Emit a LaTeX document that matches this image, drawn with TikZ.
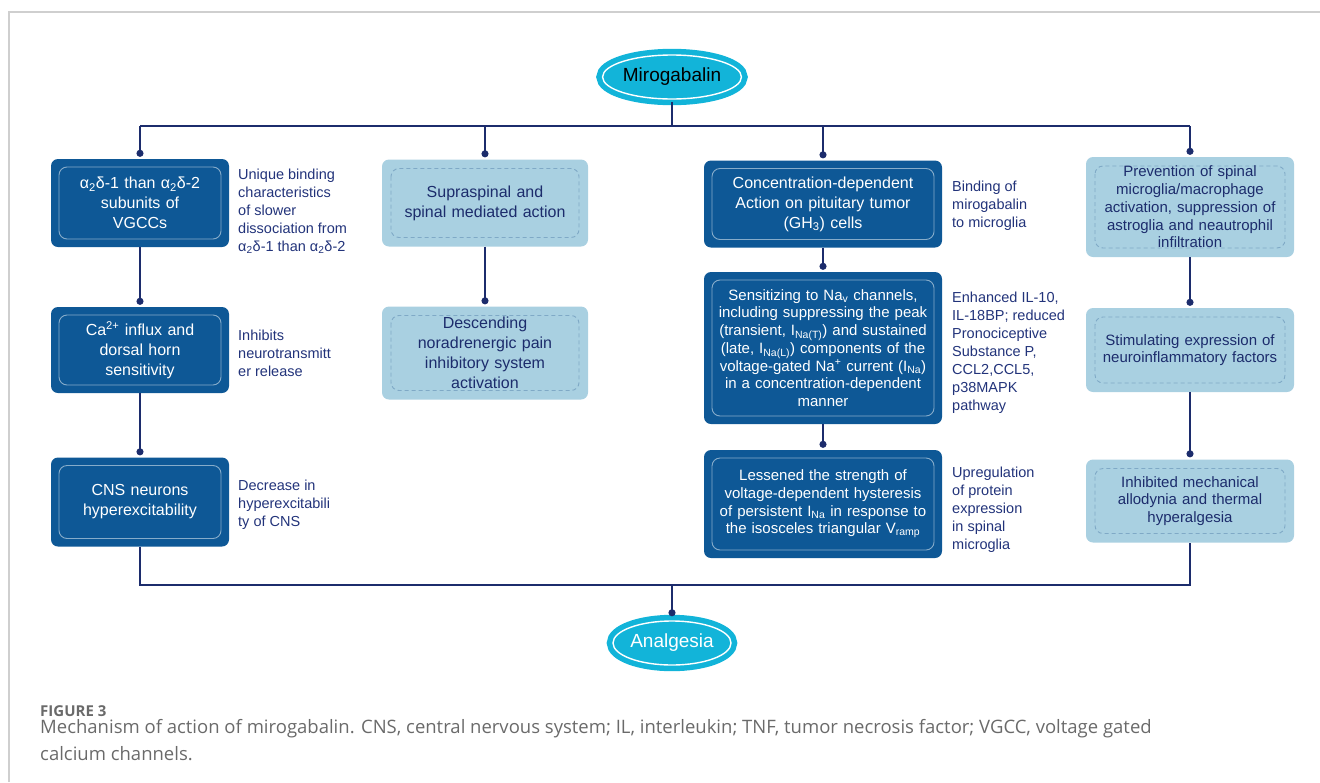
\documentclass[tikz,border=0pt]{standalone}
\usepackage{fontspec}
\setmainfont{Liberation Sans}
\newfontfamily\capfont{Open Sans}
\usepackage{tikz}
\usetikzlibrary{arrows.meta,shapes.geometric}

\definecolor{dkblue}{HTML}{0E5896}
\definecolor{ltblue}{HTML}{A9D0E1}
\definecolor{dashblue}{HTML}{7FA9C6}
\definecolor{navy}{HTML}{1C2C6C}
\definecolor{sidenavy}{HTML}{22337A}
\definecolor{cyanfill}{HTML}{12B4D9}
\definecolor{framegray}{HTML}{CFCFCF}
\definecolor{capgray}{HTML}{6A6A6A}

\tikzset{
  BoxBase/.style={rectangle, rounded corners=7pt, align=center, inner sep=0pt,
    font=\fontsize{16}{20}\selectfont},
  SmallBox/.style={font=\fontsize{15}{17.7}\selectfont},
  DarkBox/.style={BoxBase, fill=dkblue, text=white,
    path picture={\draw[white!50!dkblue, line width=0.9pt, rounded corners=8pt]
      ([shift={(8pt,-8pt)}]path picture bounding box.north west) rectangle
      ([shift={(-8pt,8pt)}]path picture bounding box.south east);}},
  LightBox/.style={BoxBase, fill=ltblue, text=navy,
    path picture={\draw[dashblue, line width=0.9pt, dash pattern=on 4pt off 3pt, rounded corners=8pt]
      ([shift={(9pt,-9pt)}]path picture bounding box.north west) rectangle
      ([shift={(-9pt,9pt)}]path picture bounding box.south east);}},
  SideText/.style={anchor=west, align=left, inner sep=0pt, text=sidenavy,
    font=\fontsize{14.5}{18}\selectfont},
  DrugStyle/.style={ellipse, fill=cyanfill, draw=cyanfill, double=white,
    double distance=1.4pt, line width=5.5pt, minimum width=118pt,
    minimum height=44pt, inner sep=0pt, font=\fontsize{19}{22}\selectfont},
  BusStyle/.style={draw=navy, line width=2.6pt},
  LinkStyle/.style={draw=navy, line width=1.8pt, -{Circle[length=7pt]}, shorten >=2pt}
}

\begin{document}
\begin{tikzpicture}[x=1pt,y=-1pt]
  \useasboundingbox (0,0) rectangle (1320,782);
  \draw[framegray, line width=1.5pt] (9,782) -- (9,12) -- (1320,12);

  \node[DrugStyle, text=black] (miro) at (672,77) {Mirogabalin};
  \node[DrugStyle, text=white] (anal) at (672,643) {Analgesia};

  \node[DarkBox, minimum width=178pt, minimum height=88pt, text width=160pt] (a1) at (140,203)
    {α\textsubscript{2}δ-1 than α\textsubscript{2}δ-2\\subunits of\\VGCCs};
  \node[DarkBox, minimum width=178pt, minimum height=86pt, text width=160pt] (a2) at (140,350)
    {Ca\textsuperscript{2+} influx and\\dorsal horn\\sensitivity};
  \node[DarkBox, minimum width=178pt, minimum height=89pt, text width=160pt] (a3) at (140,502)
    {CNS neurons\\hyperexcitability};

  \node[LightBox, minimum width=206pt, minimum height=87pt, text width=190pt] (b1) at (485,203)
    {Supraspinal and\\spinal mediated action};
  \node[LightBox, minimum width=206pt, minimum height=93pt, text width=190pt] (b2) at (485,353)
    {Descending\\noradrenergic pain\\inhibitory system\\activation};

  \node[DarkBox, minimum width=238pt, minimum height=87pt, text width=224pt] (c1) at (823,204)
    {Concentration-dependent\\Action on pituitary tumor\\(GH\textsubscript{3}) cells};
  \node[DarkBox, SmallBox, minimum width=238pt, minimum height=152pt, text width=228pt] (c2) at (823,348)
    {Sensitizing to Na\textsubscript{v} channels,\\including suppressing the peak\\(transient, I\textsubscript{Na(T)}) and sustained\\(late, I\textsubscript{Na(L)}) components of the\\voltage-gated Na\textsuperscript{+} current (I\textsubscript{Na})\\in a concentration-dependent\\manner};
  \node[DarkBox, SmallBox, minimum width=238pt, minimum height=108pt, text width=228pt] (c3) at (823,504)
    {Lessened the strength of\\voltage-dependent hysteresis\\of persistent I\textsubscript{Na} in response to\\the isosceles triangular V\textsubscript{ramp}};

  \node[LightBox, SmallBox, minimum width=208pt, minimum height=100pt, text width=198pt] (d1) at (1190,207)
    {Prevention of spinal\\microglia/macrophage\\activation, suppression of\\astroglia and neautrophil\\infiltration};
  \node[LightBox, SmallBox, minimum width=208pt, minimum height=84pt, text width=198pt] (d2) at (1190,350)
    {Stimulating expression of\\neuroinflammatory factors};
  \node[LightBox, SmallBox, minimum width=208pt, minimum height=83pt, text width=198pt] (d3) at (1190,501)
    {Inhibited mechanical\\allodynia and thermal\\hyperalgesia};

  \node[SideText] (s1) at (238,211)
    {Unique binding\\characteristics\\of slower\\dissociation from\\α\textsubscript{2}δ-1 than α\textsubscript{2}δ-2};
  \node[SideText] (s2) at (238,353) {Inhibits\\neurotransmitt\\er release};
  \node[SideText] (s3) at (238,505) {Decrease in\\hyperexcitabili\\ty of CNS};
  \node[SideText] (s4) at (952,206) {Binding of\\mirogabalin\\to microglia};
  \node[SideText] (s5) at (952,353)
    {Enhanced IL-10,\\IL-18BP; reduced\\Pronociceptive\\Substance P,\\CCL2,CCL5,\\p38MAPK\\pathway};
  \node[SideText] (s6) at (952,510) {Upregulation\\of protein\\expression\\in spinal\\microglia};

  \coordinate (tl) at (140,126);
  \coordinate (tm) at (672,126);
  \coordinate (tr) at (1190,126);
  \coordinate (bl) at (140,585);
  \coordinate (bm) at (672,585);
  \coordinate (br) at (1190,585);

  \draw[BusStyle, line width=2pt] (miro) -- (tm);
  \draw[BusStyle] (tl) -- (tr);
  \draw[LinkStyle] (tl) -- (a1);
  \draw[LinkStyle] (tl -| b1) -- (b1);
  \draw[LinkStyle] (tl -| c1) -- (c1);
  \draw[LinkStyle] (tr) -- (d1);
  \draw[LinkStyle] (a1) -- (a2);
  \draw[LinkStyle] (a2) -- (a3);
  \draw[LinkStyle] (b1) -- (b2);
  \draw[LinkStyle] (c1) -- (c2);
  \draw[LinkStyle] (c2) -- (c3);
  \draw[LinkStyle] (d1) -- (d2);
  \draw[LinkStyle] (d2) -- (d3);
  \draw[BusStyle, line width=2pt] (a3) -- (bl) -- (br) -- (d3);
  \draw[BusStyle] (bl) -- (br);
  \draw[LinkStyle] (bm) -- (anal);

  \node[anchor=west, inner sep=0pt, text=capgray,
    font=\capfont\bfseries\fontsize{15}{18}\selectfont] (fig) at (40,711) {FIGURE 3};
  \node[anchor=north west, inner sep=0pt, align=left, text=capgray,
    font=\capfont\fontsize{18.5}{27}\selectfont] (cap) at (40,719)
    {Mechanism of action of mirogabalin. CNS, central nervous system; IL, interleukin; TNF, tumor necrosis factor; VGCC, voltage gated\\calcium channels.};
\end{tikzpicture}
\end{document}
